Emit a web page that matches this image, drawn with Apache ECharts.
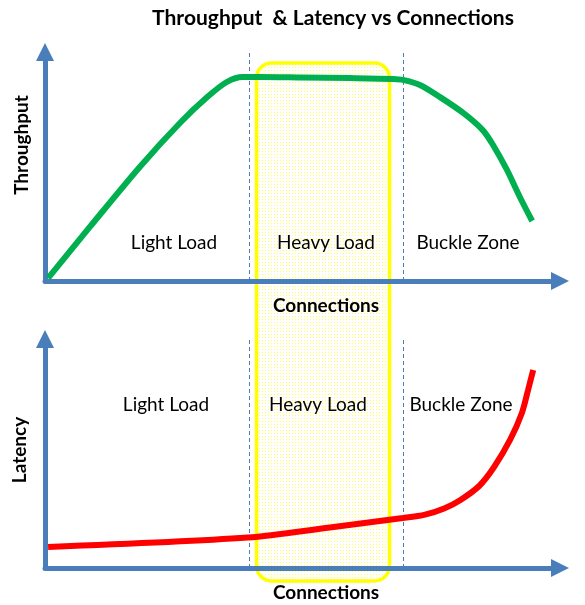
<!DOCTYPE html>
<html>
<head>
<meta charset="utf-8">
<script src="https://cdn.jsdelivr.net/npm/echarts@6/dist/echarts.min.js"></script>
<style>html,body{margin:0;padding:0;background:#fff}#c{width:585px;height:605px}</style>
</head>
<body>
<div id="c"></div>
<script>
// Connections (arbitrary units 0-100) and values
var tputX = [0.6, 8.7, 18.4, 26.2, 31.5, 35.3, 38.4, 41.7, 49.5, 59.2, 67.6, 69.5, 72.8, 76.7, 81.2, 85.0, 87.0, 89.7, 92.2, 94.6];
var tputY = [1.3, 23.6, 49.8, 69.0, 80.3, 86.9, 89.1, 89.1, 88.9, 88.6, 88.2, 87.8, 85.6, 80.3, 73.4, 65.9, 59.4, 48.5, 36.7, 26.2];
var latX = [0.6, 39.4, 55.3, 69.5, 73.8, 77.5, 80.6, 84.3, 87.2, 90.3, 92.6, 93.8, 94.8];
var latY = [9.2, 13.3, 17.7, 21.8, 23.3, 26.0, 29.6, 35.8, 44.1, 55.9, 67.7, 77.7, 86.5];
var zoneBounds = [39.6, 69.5];
var zoneNames = ['Light Load', 'Heavy Load', 'Buckle Zone'];
var titleText = 'Throughput  & Latency vs Connections';
var xName = 'Connections';
var yNames = ['Throughput', 'Latency'];

function pairs(xs, ys) { return xs.map(function (x, i) { return [x, ys[i]]; }); }

var AX = '#4a7ebb';
var FONT = 'Lato';

// dotted pattern for highlight box
var pc = document.createElement('canvas');
pc.width = 3; pc.height = 3;
var pctx = pc.getContext('2d');
pctx.fillStyle = '#ffff55';
pctx.fillRect(1, 1, 1, 1);

function axisOf(gi) {
  return {
    type: 'value', gridIndex: gi, min: 0, max: 100,
    axisLine: { show: true, onZero: false, symbol: ['none', 'triangle'], symbolSize: [18, 18], lineStyle: { color: AX, width: 5 } },
    axisTick: { show: false }, axisLabel: { show: false }, splitLine: { show: false }
  };
}
var mline = {
  silent: true, symbol: ['none', 'none'], label: { show: false },
  lineStyle: { type: [4, 3], color: AX, width: 1 },
  emphasis: { disabled: true },
  data: zoneBounds.map(function (b) { return { xAxis: b }; })
};

function txt(x, y, s, size, bold, rot) {
  return {
    type: 'text', x: x, y: y, rotation: rot || 0, z: 50,
    style: { text: s, fill: '#000', font: (bold ? 'bold ' : '') + size + 'px ' + FONT, textAlign: 'center', textVerticalAlign: 'middle' }
  };
}

var chart = echarts.init(document.getElementById('c'));
chart.setOption({
  animation: false,
  grid: [
    { left: 45, right: 25, top: 52, bottom: 324 },
    { left: 45, right: 25, top: 339, bottom: 37 }
  ],
  xAxis: [axisOf(0), axisOf(1)],
  yAxis: [axisOf(0), axisOf(1)],
  series: [
    { type: 'line', xAxisIndex: 0, yAxisIndex: 0, data: pairs(tputX, tputY), smooth: 0.3, showSymbol: false,
      lineStyle: { color: '#00b050', width: 6 }, z: 5, markLine: mline },
    { type: 'line', xAxisIndex: 1, yAxisIndex: 1, data: pairs(latX, latY), smooth: 0.3, showSymbol: false,
      lineStyle: { color: '#ff0000', width: 6 }, z: 5, markLine: mline }
  ],
  graphic: [
    { type: 'rect', z: -10, shape: { x: 256.5, y: 63, width: 133, height: 518, r: 15 },
      style: { fill: { image: pc, repeat: 'repeat' }, stroke: '#ffff00', lineWidth: 3.5 } },
    txt(333, 18, titleText, 21, true),
    txt(22, 145, yNames[0], 19, true, Math.PI / 2),
    txt(20, 450, yNames[1], 19, true, Math.PI / 2),
    txt(326, 306, xName, 19, true),
    txt(326, 593, xName, 19, true),
    txt(174, 243, zoneNames[0], 19, false),
    txt(326, 243, zoneNames[1], 19, false),
    txt(468, 243, zoneNames[2], 19, false),
    txt(166, 405, zoneNames[0], 19, false),
    txt(318, 405, zoneNames[1], 19, false),
    txt(461, 405, zoneNames[2], 19, false)
  ]
});
</script>
</body>
</html>
